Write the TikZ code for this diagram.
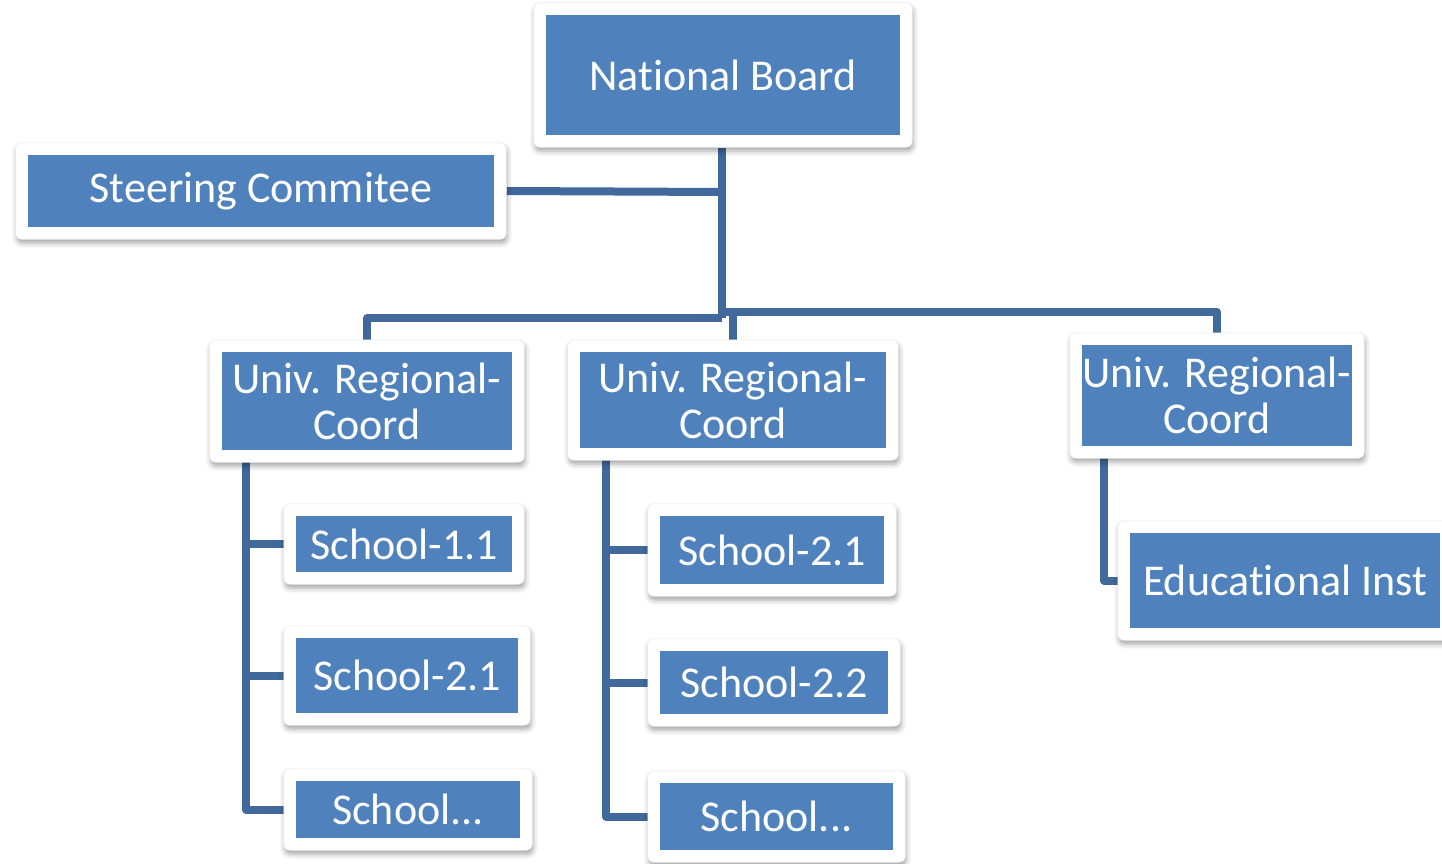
\documentclass[tikz,border=0pt]{standalone}
\usepackage{fontspec}
\setmainfont{Carlito}[Ligatures={NoCommon,NoRequired,NoContextual}]
\usetikzlibrary{fit,shadows.blur}
\definecolor{boxblue}{HTML}{4F81BD}
\definecolor{connblue}{HTML}{41699B}
\pgfdeclarelayer{connlayer}
\pgfdeclarelayer{framelayer}
\pgfsetlayers{connlayer,framelayer,main}
\tikzset{
  bluebox/.style={fill=boxblue, text=white, inner sep=0pt, align=center,
    font=\fontsize{44}{46}\selectfont},
  framebox/.style={fill=white, draw=black!7, line width=0.6pt, rounded corners=6pt,
    inner sep=12pt, blur shadow={shadow xshift=1pt, shadow yshift=-4pt,
    shadow blur radius=5pt, shadow opacity=35}},
  conn/.style={draw=connblue, line width=8pt, line join=round},
}
\begin{document}
\begin{tikzpicture}[x=1pt,y=-1pt]
\useasboundingbox (0,0) rectangle (1442,864);
% inner boxes
\node[bluebox, minimum width=354pt, minimum height=120pt] (nb) at (723,75) {Nat\kern0pt ional Board};
\node[bluebox, minimum width=466pt, minimum height=72pt] (sc) at (261,191) {Steering Commitee};
\node[bluebox, minimum width=290pt, minimum height=98pt] (u1) at (367,401) {Univ. Regional-\\Coord};
\node[bluebox, minimum width=306pt, minimum height=96pt] (u2) at (733,400) {Univ. Regional-\\Coord};
\node[bluebox, minimum width=270pt, minimum height=101pt] (u3) at (1217,395.5) {Univ. Regional-\\Coord};
\node[bluebox, minimum width=310pt, minimum height=95pt] (ed) at (1285,580.5) {Educat\kern0pt ional Inst};
\node[bluebox, minimum width=216pt, minimum height=56pt] (s11) at (404,544) {School-1.1};
\node[bluebox, minimum width=222pt, minimum height=75pt] (s121) at (407,675.5) {School-2.1};
\node[bluebox, minimum width=224pt, minimum height=57pt] (s1x) at (408,809.5) {School...};
\node[bluebox, minimum width=224pt, minimum height=68pt] (s21) at (772,550) {School-2.1};
\node[bluebox, minimum width=228pt, minimum height=63pt] (s22) at (774,682.5) {School-2.2};
\node[bluebox, minimum width=233pt, minimum height=67pt] (s2x) at (776.5,816.5) {School...};
% frames
\begin{pgfonlayer}{framelayer}
\foreach \n in {nb,sc,u1,u2,u3,ed,s11,s121,s1x,s21,s22,s2x}{
  \node[framebox, fit=(\n)] (\n f) {};
}
\end{pgfonlayer}
% connectors
\coordinate (jL) at (722,318);
\coordinate (jR) at (722,312);
\coordinate (jS) at (722,192);
\coordinate (v1) at (246,462);
\coordinate (v2) at (606,459);
\coordinate (v3) at (1104,457);
\begin{pgfonlayer}{connlayer}
\draw[conn] (nbf.south -| jL) -- (jL);
\draw[conn] (scf.east) -- (jS);
\draw[conn] (jL) -| (u1f.north);
\draw[conn] (jR) -| (u3f.north);
\draw[conn] (u2f.north |- jR) -- (u2f.north);
\draw[conn] (v1) |- (s1xf.west);
\draw[conn] (v1 |- s11f.west) -- (s11f.west);
\draw[conn] (v1 |- s121f.west) -- (s121f.west);
\draw[conn] (v2) |- (s2xf.west);
\draw[conn] (v2 |- s21f.west) -- (s21f.west);
\draw[conn] (v2 |- s22f.west) -- (s22f.west);
\draw[conn] (v3) |- (edf.west);
\end{pgfonlayer}
\end{tikzpicture}
\end{document}
